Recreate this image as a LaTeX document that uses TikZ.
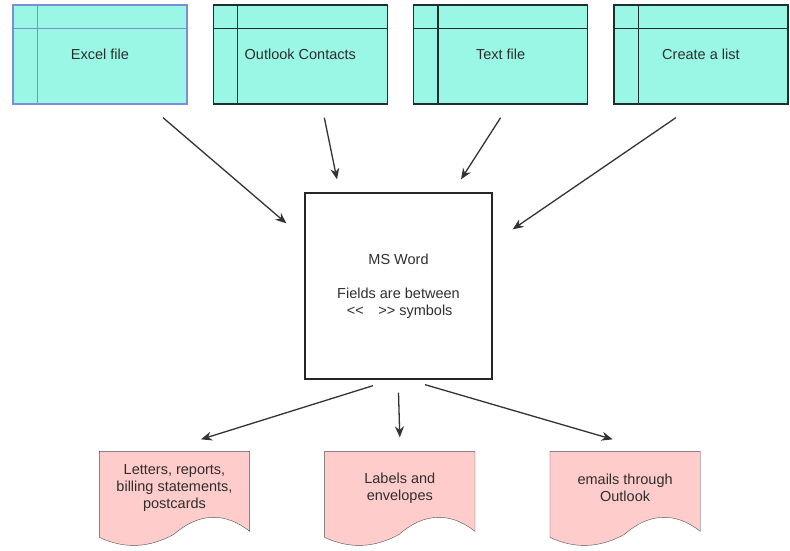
\documentclass[tikz,border=0pt]{standalone}
\usepackage{fontspec}
\setmainfont{Liberation Sans}[Ligatures=TeXOff]
\usepackage{tikz}
\usetikzlibrary{positioning,arrows.meta,backgrounds}

\definecolor{tablefill}{HTML}{9AF7E6}
\definecolor{tableline}{HTML}{1F2F2F}
\definecolor{excelline}{HTML}{7C8FD6}
\definecolor{docfill}{HTML}{FFCCCC}
\definecolor{docline}{HTML}{505050}
\definecolor{textgray}{HTML}{2E2E2E}

% inner lines of a table box
\newcommand\tablelines[2]{%
  \draw[#2] ([xshift=25pt]#1.north west) -- ([xshift=25pt]#1.south west);
  \draw[#2] ([yshift=-24pt]#1.north west) -- ([yshift=-24pt]#1.north east);}
% wavy document outline hanging under a text node
\newcommand\docshape[1]{%
  \draw[docstyle] (#1.north west) -- (#1.north east) -- ([yshift=-80pt]#1.north east)
    .. controls ([xshift=-24.8pt,yshift=-60.3pt]#1.north east) and ([xshift=99.3pt,yshift=-61.3pt]#1.north west)
    .. ([xshift=74.5pt,yshift=-83pt]#1.north west)
    .. controls ([xshift=49.7pt,yshift=-96.7pt]#1.north west) and ([xshift=24.8pt,yshift=-97.7pt]#1.north west)
    .. ([yshift=-86pt]#1.north west) -- cycle;}

\begin{document}
\begin{tikzpicture}[x=1pt, y=-1pt, >={Stealth[length=11pt,width=9pt]}, line width=1.3pt,
    font=\fontsize{14.5}{17}\selectfont, text=textgray,
    table/.style={draw=tableline, fill=tablefill, minimum width=174pt, minimum height=99pt, inner sep=0pt},
    docnode/.style={minimum width=149pt, minimum height=72pt, inner sep=0pt, align=center},
    docstyle/.style={draw=docline, fill=docfill},
    arrow/.style={->, draw=black!80}]
		\useasboundingbox (0,0) rectangle (790,550);

		\node[table, draw=excelline] (excel) at (100,54.5) {Excel file};
		\node[table] (outlook) [right=25pt of excel] {Outlook Contacts};
		\node[table] (textfile) [right=25pt of outlook] {Text file};
		\node[table] (newlist) [right=25pt of textfile] {Create a list};
		\tablelines{excel}{draw=excelline}
		\tablelines{outlook}{draw=tableline}
		\tablelines{textfile}{draw=tableline}
		\tablelines{newlist}{draw=tableline}

		\node[draw=black!85, minimum width=187pt, minimum height=186pt, align=center] (word) at (398.5,286)
			{MS Word\\[17pt]Fields are between\\\,<<\ \ \ \,>> symbols};

		\node[docnode] (letters) at (174.5,488) {Letters, reports,\\billing statements,\\postcards};
		\node[docnode] (labels) [right=75pt of letters] {Labels and\\envelopes};
		\node[docnode] (emails) [right=75pt of labels] {emails through\\Outlook};
		\begin{scope}[on background layer]
			\docshape{letters}
			\docshape{labels}
			\docshape{emails}
		\end{scope}

		\draw[arrow] ([xshift=63pt,yshift=-13pt]excel.south) -- ([xshift=-18pt,yshift=-31pt]word.north west);
		\draw[arrow] ([xshift=24pt,yshift=-13pt]outlook.south) -- ([xshift=-61.5pt,yshift=13pt]word.north);
		\draw[arrow] ([yshift=-13pt]textfile.south) -- ([xshift=62.5pt,yshift=13pt]word.north);
		\draw[arrow] ([xshift=-25pt,yshift=-13pt]newlist.south) -- ([xshift=20pt,yshift=-37pt]word.north east);

		\draw[arrow] ([xshift=-25.5pt,yshift=-6pt]word.south) -- ([xshift=26.5pt,yshift=12pt]letters.north);
		\draw[arrow] ([yshift=-13pt]word.south) -- ([yshift=14pt]labels.north);
		\draw[arrow] ([xshift=26.5pt,yshift=-5pt]word.south) -- ([xshift=-12.5pt,yshift=12pt]emails.north);
	\end{tikzpicture}
\end{document}
